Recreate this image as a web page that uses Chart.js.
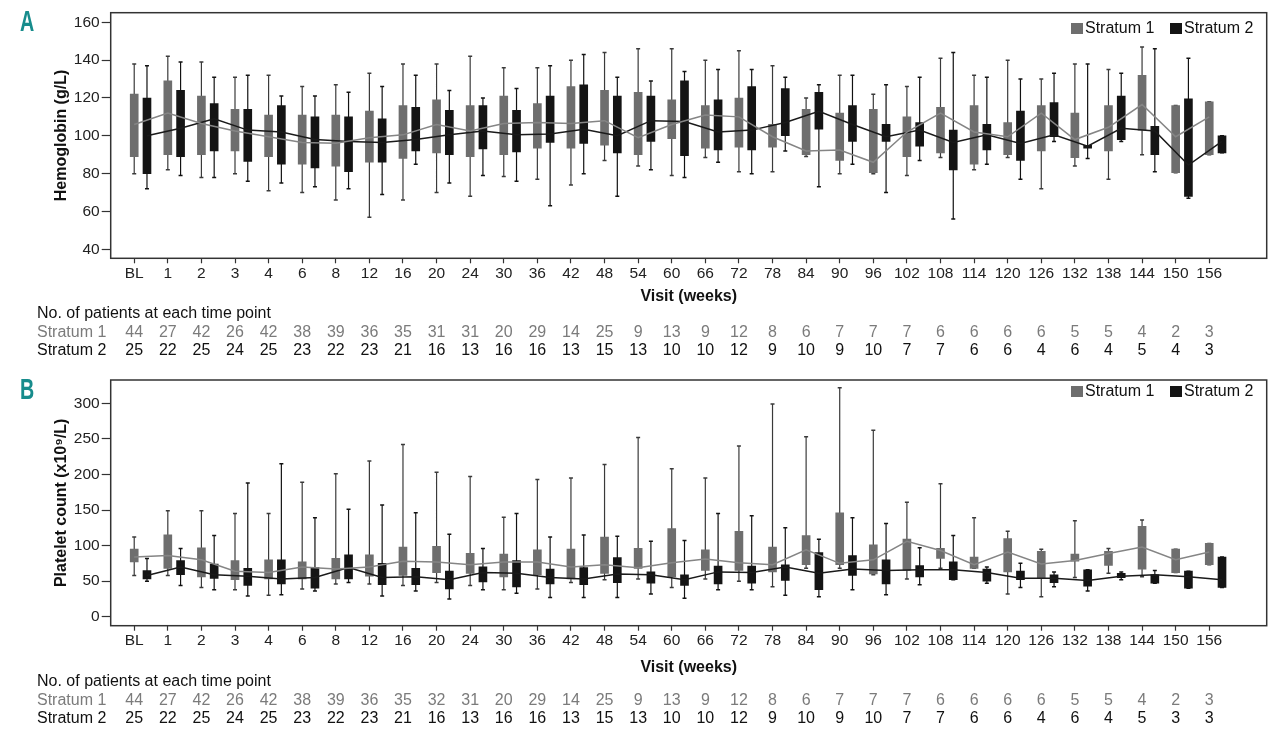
<!DOCTYPE html>
<html>
<head>
<meta charset="utf-8">
<script src="https://cdn.jsdelivr.net/npm/chart.js@4.4.1/dist/chart.umd.min.js"></script>
<style>
  html, body { margin: 0; padding: 0; background: #fff; }
  body { width: 1280px; height: 735px; overflow: hidden; position: relative;
         font-family: "Liberation Sans", Arial, sans-serif; }
  canvas { position: absolute; left: 0; }
  .t { position: absolute; white-space: nowrap; font-size: 16px; line-height: 18px; }
  .num { transform: translateX(-50%); }
  .g { color: #7b7b7b; }
  .k { color: #111; }
  .panel { position: absolute; font-family: "Liberation Sans", Arial, sans-serif; font-weight: bold;
           font-size: 29px; line-height: 29px; color: #178c8c; transform: scaleX(0.68); transform-origin: left top; }
  .sq { position: absolute; width: 12px; height: 11px; }
</style>
</head>
<body>
<canvas id="cA" width="1280" height="310" style="top:0px;width:1280px;height:310px"></canvas>
<canvas id="cB" width="1280" height="320" style="top:360px;width:1280px;height:320px"></canvas>
<div class="panel" style="left:20px;top:7px">A</div>
<div class="panel" style="left:20px;top:375px">B</div>
<script>
// ---------- categories ----------
const visits = ['BL','1','2','3','4','6','8','12','16','20','24','30','36','42','48','54','60','66','72','78','84','90','96','102','108','114','120','126','132','138','144','150','156'];

// ---------- Panel A: Hemoglobin (g/L) ----------
const hbTicks = [40, 60, 80, 100, 120, 140, 160];
const hbS1Max = [138,142,139,131,132,126,127,133,138,138,142,136,136,140,144,146,146,140,145,137,120,132,122,126,141,132,140,130,138,135,147,116,118];
const hbS1Q3  = [122,129,121,114,111,111,111,113,116,119,116,121,117,126,124,123,119,116,120,106,114,112,114,110,115,116,107,116,112,116,132,116,118];
const hbS1Q1  = [89,90,90,92,89,85,84,86,88,91,89,90,93.5,93.5,95,90,98.5,93.5,94,94,90,87,80.5,89,91,85,90,92,88.5,92,103,80.5,90];
const hbS1Min = [80,82,78,80,71,70,66,57,66,70,68,78.5,77,74,87,84,79,88.5,81,81,89,80,80,79,88.5,82,88.5,72,84,77,90,80.5,90];
const hbS1Mid = [106,112,106.5,102.5,99.5,96.5,96,99,100.5,106,102.5,106.5,107,106.5,108,99,106,111,110,99.5,92,92.5,86,102,112,102,99.5,112,98,104.5,116.5,99.5,110];
const hbS2Max = [137,139,131,132,121,121,123,126,132,124,120,125,137,143,131,129,134,135,135,131,127,132,127,131,144,131,130,133,138,133,146,141,100];
const hbS2Q3  = [120,124,117,114,116,110,110,109,115,113.5,116,113.5,121,127,121,121,129,119,126,125,123,116,106,107,103,106,113,117.5,95,121,105,119.5,100];
const hbS2Q1  = [80,89,92,86.5,85,83,81,86,92,90,93,91.5,96.5,96,91,97,89.5,92.5,92.5,100,103.5,97,97,94.5,82,92.5,87,99.5,93.5,98,90,68,91];
const hbS2Min = [72,79,78,76,75,73,72,69,85,75,79,76,63,80,68,82,78,86,80,92,73,85,70,87,56,85,77,97,88,97,81,67,91];
const hbS2Mid = [100,104,109,103,102,98,97,96.5,98,100.5,102.5,100.5,101,103.5,100,108,107.5,102,103,107,113,106,99.5,103,96.5,100.5,96,100.5,94.5,104,102.5,84.5,97];

// ---------- Panel B: Platelet count (x10^9/L) ----------
const plTicks = [0, 50, 100, 150, 200, 250, 300];
const plS1Max = [112,149,149,145,145,189,201,219,242,203,197,140,193,195,214,252,208,195,240,299,253,322,262,161,187,139,120,95,135,96,136,95,103];
const plS1Q3  = [95,115,97,79,80,77,82,87,98,99,89,88,94,95,112,96,124,94,120,98,114,146,101,109,96,84,110,92,88,92,127,95,103];
const plS1Q1  = [77,68,56,52,53,53,53,57,58,62,61,56,59,53,61,68,56,65,65,63,73,73,60,65,82,68,63,55,78,72,67,62,73];
const plS1Min = [58,58,41,38,30,39,46,46,44,48,44,38,39,48,52,53,41,53,50,42,68,68,59,53,68,68,32,28,55,61,56,62,73];
const plS1Mid = [84,86,80,64,62,70,67,70,78,77,73,77,77,70,73,69,76,81,76,73,94,75,80,106,93,73,91,74,79,89,98,80,91];
const plS2Max = [82,96,114,188,215,139,151,157,146,116,96,145,112,115,113,106,107,145,142,125,109,139,131,97,114,70,75,63,66,63,65,64,84];
const plS2Q3  = [65,79,74,68,80,69,87,75,68,64,70,79,67,69,83,63,59,71,71,73,90,86,80,72,77,67,64,59,66,61,59,64,84];
const plS2Q1  = [53,59,54,44,46,40,53,45,45,39,49,42,46,45,48,47,44,46,47,51,38,58,46,56,52,50,52,48,43,55,47,40,41];
const plS2Min = [50,44,38,29,31,36,48,29,36,25,38,33,27,27,27,32,26,38,38,30,28,38,31,45,52,47,41,42,36,52,47,40,41];
const plS2Mid = [58,70,59,57,53,55,69,55,56,52,62,61,55,53,60,59,52,63,62,70,61,67,65,66,66,62,54,54,51,57,59,56,52];

// ---------- Number of patients ----------
const nA1 = [44,27,42,26,42,38,39,36,35,31,31,20,29,14,25,9,13,9,12,8,6,7,7,7,6,6,6,6,5,5,4,2,3];
const nA2 = [25,22,25,24,25,23,22,23,21,16,13,16,16,13,15,13,10,10,12,9,10,9,10,7,7,6,6,4,6,4,5,4,3];
const nB1 = [44,27,42,26,42,38,39,36,35,32,31,20,29,14,25,9,13,9,12,8,6,7,7,7,6,6,6,6,5,5,4,2,3];
const nB2 = [25,22,25,24,25,23,22,23,21,16,13,16,16,13,15,13,10,10,12,9,10,9,10,7,7,6,6,4,6,4,5,3,3];

const seriesNames = ['Stratum 1', 'Stratum 2'];
const tableTitle = 'No. of patients at each time point';

// ---------- styling ----------
const S1_BOX = '#6e6e6e', S1_WHISK = '#3a3a3a', S1_LINE = '#858585';
const S2_BOX = '#141414', S2_WHISK = '#111111', S2_LINE = '#1a1a1a';
const S2_SHIFT = 0.38;
const X_MIN = -0.70, X_MAX = 33.71;

Chart.defaults.font.family = "'Liberation Sans', Arial, sans-serif";
Chart.defaults.color = '#222';

function boxData(q1, q3, shift) { return q1.map((v, i) => ({ x: i + shift, y: [v, q3[i]] })); }
function whiskerData(mn, mx, shift) {
  const out = [];
  mn.forEach((v, i) => { out.push({ x: i + shift, y: v }, { x: i + shift, y: mx[i] }, { x: i + shift, y: null }); });
  return out;
}
function capData(mn, mx, shift) {
  return mn.map((v, i) => ({ x: i + shift, y: v })).concat(mx.map((v, i) => ({ x: i + shift, y: v })));
}
function midData(m, shift) { return m.map((v, i) => ({ x: i + shift, y: v })); }

const frame = {
  id: 'frame',
  afterDraw(chart) {
    const { ctx, chartArea: a } = chart;
    ctx.save();
    ctx.strokeStyle = '#333';
    ctx.lineWidth = 1.5;
    ctx.strokeRect(a.left, a.top, a.right - a.left, a.bottom - a.top);
    ctx.restore();
  }
};

function buildPanel(p) {
  const H = p.height;
  const datasets = [
    { type: 'line', data: whiskerData(p.s1[0], p.s1[3], 0), borderColor: S1_WHISK, borderWidth: 1.2, pointRadius: 0, spanGaps: false, order: 5 },
    { type: 'line', data: whiskerData(p.s2[0], p.s2[3], S2_SHIFT), borderColor: S2_WHISK, borderWidth: 1.2, pointRadius: 0, spanGaps: false, order: 5 },
    { type: 'line', data: capData(p.s1[0], p.s1[3], 0), showLine: false, pointStyle: 'line', pointRadius: 2, pointBorderWidth: 1.5, pointBorderColor: S1_WHISK, order: 4 },
    { type: 'line', data: capData(p.s2[0], p.s2[3], S2_SHIFT), showLine: false, pointStyle: 'line', pointRadius: 2, pointBorderWidth: 1.5, pointBorderColor: S2_WHISK, order: 4 },
    { type: 'bar', label: seriesNames[0], data: boxData(p.s1[1], p.s1[2], 0), backgroundColor: S1_BOX, barThickness: 8, grouped: false, borderWidth: 0, order: 3 },
    { type: 'bar', label: seriesNames[1], data: boxData(p.s2[1], p.s2[2], S2_SHIFT), backgroundColor: S2_BOX, barThickness: 8, grouped: false, borderWidth: 0, order: 3 },
    { type: 'line', data: midData(p.s1[4], 0), borderColor: S1_LINE, borderWidth: 1.5, pointRadius: 0, tension: 0, order: 1 },
    { type: 'line', data: midData(p.s2[4], S2_SHIFT), borderColor: S2_LINE, borderWidth: 1.5, pointRadius: 0, tension: 0, order: 1 }
  ];
  return new Chart(document.getElementById(p.id), {
    type: 'bar',
    data: { datasets },
    plugins: [frame],
    options: {
      responsive: false, animation: false, events: [], devicePixelRatio: 1,
      layout: { padding: { left: 0, right: 1280 - 1266.7, top: p.areaTop, bottom: 0 } },
      plugins: { legend: { display: false }, tooltip: { enabled: false } },
      scales: {
        x: {
          type: 'linear', min: X_MIN, max: X_MAX, offset: false,
          afterBuildTicks: s => { s.ticks = visits.map((v, i) => ({ value: i })); },
          afterFit: s => { s.height = H - p.areaBottom; },
          ticks: { autoSkip: false, maxRotation: 0, minRotation: 0, padding: 1, color: '#222',
                   font: { size: 15.5 }, callback: (v, i) => visits[i] },
          grid: { display: true, drawOnChartArea: false, drawTicks: true, tickLength: 5, tickColor: '#333', tickWidth: 1.2, offset: false },
          border: { display: false },
          title: { display: true, text: 'Visit (weeks)', color: '#111', font: { size: 16, weight: 'bold' },
                   padding: { top: 0, bottom: (H - p.xTitleY) - 9.6 } }
        },
        y: {
          type: 'linear', min: p.yMin, max: p.yMax,
          afterBuildTicks: s => { s.ticks = p.yTicks.map(v => ({ value: v })); },
          afterFit: s => { s.width = 110.7; },
          ticks: { padding: 2, color: '#222', font: { size: 15.5 } },
          grid: { display: true, drawOnChartArea: false, drawTicks: true, tickLength: 9, tickColor: '#333', tickWidth: 1.2 },
          border: { display: false },
          title: { display: true, text: p.yTitle, color: '#111', font: { size: 16, weight: 'bold' },
                   padding: { top: 51.5, bottom: 0 } }
        }
      }
    }
  });
}

const chartA = buildPanel({
  id: 'cA', height: 310, areaTop: 12.7, areaBottom: 258.3, xTitleY: 297,
  yMin: 35.24, yMax: 165.07, yTicks: hbTicks, yTitle: 'Hemoglobin (g/L)',
  s1: [hbS1Min, hbS1Q1, hbS1Q3, hbS1Max, hbS1Mid],
  s2: [hbS2Min, hbS2Q1, hbS2Q3, hbS2Max, hbS2Mid]
});
const chartB = buildPanel({
  id: 'cB', height: 320, areaTop: 20, areaBottom: 265.7, xTitleY: 308,
  yMin: -12.65, yMax: 332.8, yTicks: plTicks, yTitle: 'Platelet count (x10\u2079/L)',
  s1: [plS1Min, plS1Q1, plS1Q3, plS1Max, plS1Mid],
  s2: [plS2Min, plS2Q1, plS2Q3, plS2Max, plS2Mid]
});

// ---------- HTML text: legends and patient tables ----------
function addText(txt, left, centerY, cls, center) {
  const d = document.createElement('div');
  d.className = 't ' + cls + (center ? ' num' : '');
  d.textContent = txt;
  d.style.left = left + 'px';
  d.style.top = (centerY - 9) + 'px';
  document.body.appendChild(d);
}
function addSquare(left, top, color) {
  const d = document.createElement('div');
  d.className = 'sq';
  d.style.left = left + 'px'; d.style.top = top + 'px'; d.style.background = color;
  document.body.appendChild(d);
}
function legend(cy) {
  addSquare(1071, cy - 5.5, S1_BOX); addText(seriesNames[0], 1085, cy, 'k');
  addSquare(1170, cy - 5.5, S2_BOX); addText(seriesNames[1], 1184, cy, 'k');
}
function table(chart, headY, r1Y, r2Y, n1, n2) {
  addText(tableTitle, 37, headY, 'k');
  addText(seriesNames[0], 37, r1Y, 'g');
  addText(seriesNames[1], 37, r2Y, 'k');
  n1.forEach((v, i) => addText(String(v), chart.scales.x.getPixelForValue(i), r1Y, 'g', true));
  n2.forEach((v, i) => addText(String(v), chart.scales.x.getPixelForValue(i), r2Y, 'k', true));
}
legend(28);
legend(391);
table(chartA, 313, 332, 350, nA1, nA2);
table(chartB, 681, 700, 717.5, nB1, nB2);
</script>
</body>
</html>
